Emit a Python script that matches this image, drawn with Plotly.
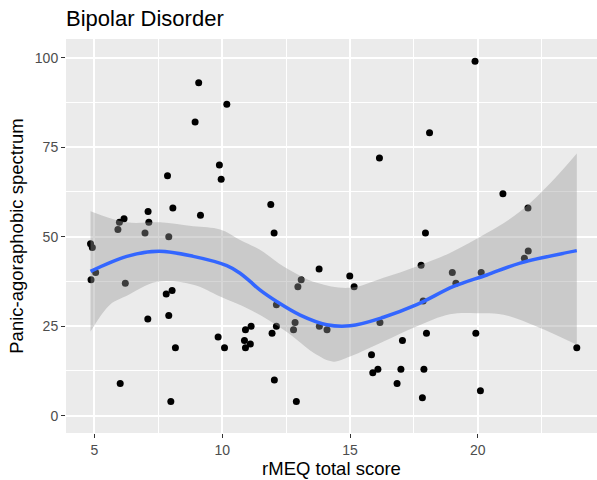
import plotly.graph_objects as go

# Jittered points: rMEQ total score (x) vs Panic-agoraphobic spectrum (y)
x_score = [9.08, 10.18, 8.94, 9.89, 9.96, 7.86, 8.07, 7.10, 9.15, 6.16, 5.98, 7.13, 5.92, 6.98, 7.91,
           4.85, 4.92, 5.05, 4.87, 6.21, 7.81, 8.04, 7.09, 7.91, 8.17, 6.01, 7.99, 9.84, 10.09, 10.91,
           11.13, 10.87, 11.10, 10.91,
           12.03, 17.95, 13.79, 13.09, 12.96, 14.99, 15.16, 17.78, 12.12, 12.12, 11.95, 12.85, 12.79,
           13.80, 14.10, 16.17, 17.86, 17.05, 17.99, 15.84, 16.09, 15.89, 16.99, 17.89, 16.84, 17.83,
           12.04, 12.90,
           18.11, 16.15, 11.90, 19.89, 20.98, 21.96, 19.00, 19.14, 20.13, 21.82, 21.97, 19.92, 23.87, 20.10]
y_panic = [93, 87, 82, 70, 66, 67, 58, 57, 56, 55, 54, 54, 52, 51, 50,
           48, 47, 40, 38, 37, 34, 35, 27, 28, 19, 9, 4, 22, 19, 24,
           25, 21, 20, 19,
           51, 51, 41, 38, 36, 39, 36, 42, 31, 25, 23, 26, 24,
           25, 24, 26, 32, 21, 23, 17, 13, 12, 13, 13, 9, 5,
           10, 4,
           79, 72, 59, 99, 62, 58, 40, 37, 40, 44, 46, 23, 19, 7]

# LOESS smooth curve
smooth_x = [4.85, 6.27, 7.53, 8.87, 10.18, 10.7, 11.09, 11.46, 12.13, 13.05, 14.09, 15.0,
            16.31, 17.61, 19.05, 20.35, 21.65, 23.87]
smooth_y = [40.3, 44.5, 45.9, 44.5, 41.9, 39.8, 37.5, 35.2, 31.9, 28.1, 25.4, 25.1,
            27.5, 31.0, 36.1, 39.3, 42.6, 46.1]

# Confidence band
upper_x = [4.85, 6.27, 7.57, 8.87, 9.92, 10.7, 11.46, 12.4, 13.7, 15.0, 16.31, 17.6,
           18.89, 20.35, 21.65, 22.96, 23.87]
upper_y = [57.1, 54.0, 54.0, 52.9, 52.0, 49.1, 46.4, 41.7, 37.1, 35.7, 38.5, 41.7,
           45.4, 51.0, 57.0, 65.9, 73.2]
lower_x = [4.85, 5.61, 6.27, 7.44, 8.87, 9.92, 11.09, 12.4, 13.7, 14.35, 15.0, 16.31,
           17.6, 18.9, 19.96, 21.0, 22.3, 23.87]
lower_y = [23.5, 31.0, 33.5, 37.4, 36.6, 33.3, 29.6, 24.0, 17.0, 15.1, 16.5, 20.7,
           24.9, 28.3, 28.6, 28.2, 24.9, 19.8]

x_ticks = [5, 10, 15, 20]
y_ticks = [0, 25, 50, 75, 100]

fig = go.Figure()
fig.add_trace(go.Scatter(x=x_score, y=y_panic, mode="markers",
                         marker=dict(color="black", size=7, line=dict(width=0)),
                         showlegend=False, hoverinfo="x+y"))
fig.add_trace(go.Scatter(x=lower_x, y=lower_y, mode="lines",
                         line=dict(width=0, shape="spline", color="rgba(0,0,0,0)"),
                         showlegend=False, hoverinfo="skip"))
fig.add_trace(go.Scatter(x=upper_x, y=upper_y, mode="lines", fill="tonexty",
                         fillcolor="rgba(153,153,153,0.4)",
                         line=dict(width=0, shape="spline", color="rgba(0,0,0,0)"),
                         showlegend=False, hoverinfo="skip"))
fig.add_trace(go.Scatter(x=smooth_x, y=smooth_y, mode="lines",
                         line=dict(color="#3366FF", width=3.5, shape="spline"),
                         showlegend=False))

axis_common = dict(
    showline=False, zeroline=False, showgrid=True, gridcolor="white", gridwidth=1.8,
    ticks="outside", ticklen=4, tickwidth=1.3, tickcolor="#333333",
    tickfont=dict(family="Liberation Sans, Arial, sans-serif", size=14, color="#4D4D4D"),
    title_font=dict(family="Liberation Sans, Arial, sans-serif", size=18.5, color="black"),
)

fig.update_layout(
    width=597, height=480,
    margin=dict(l=66, r=0, t=39, b=47),
    paper_bgcolor="white", plot_bgcolor="#EBEBEB",
    title=dict(text="Bipolar Disorder", x=66 / 597, xref="container", xanchor="left",
               y=1 - 18 / 480, yref="container", yanchor="middle",
               font=dict(family="Liberation Sans, Arial, sans-serif", size=22, color="black")),
    xaxis=dict(range=[3.89, 24.66], tickvals=x_ticks, ticktext=[str(v) for v in x_ticks],
               title=dict(text="rMEQ total score", standoff=4),
               minor=dict(dtick=2.5, tick0=0, showgrid=True, gridcolor="white", gridwidth=0.9, ticks=""),
               **axis_common),
    yaxis=dict(range=[-4.83, 105.2], tickvals=y_ticks, ticktext=[str(v) for v in y_ticks],
               title=dict(text="Panic-agoraphobic spectrum", standoff=6),
               minor=dict(dtick=12.5, tick0=0, showgrid=True, gridcolor="white", gridwidth=0.9, ticks=""),
               **axis_common),
)

fig.write_html("out.html")
